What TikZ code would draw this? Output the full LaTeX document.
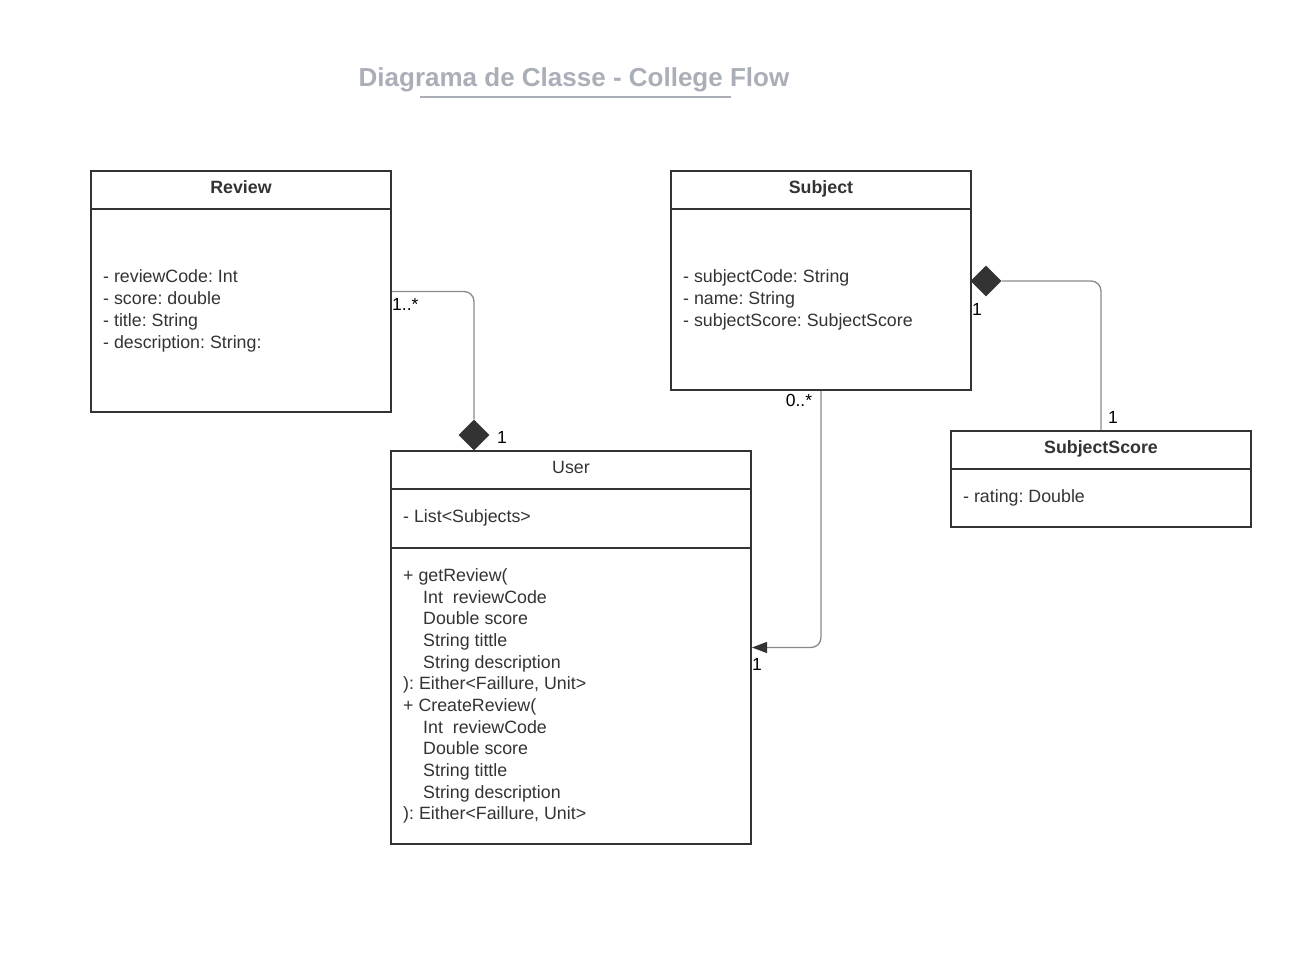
\documentclass[tikz,border=0pt]{standalone}
\usepackage{fontspec}
\setmainfont{Liberation Sans}
\usetikzlibrary{shapes.geometric,arrows.meta}
\definecolor{dark}{HTML}{333333}
\definecolor{linegray}{HTML}{8A8A8A}
\definecolor{titlegray}{HTML}{A9AEB7}
\frenchspacing
\tikzset{
  umlbox/.style={draw=dark, line width=2pt, rectangle, inner sep=0pt},
  sep/.style={draw=dark, line width=2pt},
  attr/.style={text=dark, inner sep=0pt, font=\fontsize{17.8}{21.7}\selectfont},
  hdr/.style={text=dark, inner sep=0pt, anchor=base, font=\fontsize{17.8}{21.7}\selectfont\bfseries},
  lbl/.style={text=black, inner sep=0pt, font=\fontsize{17.5}{20}\selectfont},
  conn/.style={draw=linegray, line width=1.3pt, rounded corners=10pt},
  comp/.style={diamond, fill=dark, inner sep=0pt, minimum width=31pt, minimum height=31pt},
}
\begin{document}
\begin{tikzpicture}[x=1pt,y=-1pt]
\useasboundingbox (0,0) rectangle (1299,976);

% title
\node[text=titlegray, inner sep=0pt, anchor=base, font=\fontsize{26}{30}\selectfont\bfseries] (title) at (574,86.5) {Diagrama de Classe - College Flow};
\draw[titlegray, line width=2pt] (420,97) -- (731,97);

% boxes
\node[umlbox, minimum width=300pt, minimum height=241pt] (review) at (241,291.5) {};
\draw[sep] (91,209) -- (391,209);
\node[hdr] (reviewT) at (241,193.5) {Review};
\foreach [count=\i] \t in {{- reviewCode: Int},{- score: double},{- title: String},{- description: String:}}
  \node[attr, anchor=base west] (rv\i) at (103,{283+(\i-1)*21.7}) {\t};

\node[umlbox, minimum width=300pt, minimum height=219pt] (subject) at (821,280.5) {};
\draw[sep] (671,209) -- (971,209);
\node[hdr] (subjectT) at (821,193.5) {Subject};
\foreach [count=\i] \t in {{- subjectCode: String},{- name: String},{- subjectScore: SubjectScore}}
  \node[attr, anchor=base west] (sb\i) at (683,{283+(\i-1)*21.7}) {\t};

\node[umlbox, minimum width=300pt, minimum height=96pt] (score) at (1101,479) {};
\draw[sep] (951,469) -- (1251,469);
\node[hdr] (scoreT) at (1101,453.5) {SubjectScore};
\node[attr, anchor=base west] (sc1) at (963,502.5) {- rating: Double};

\node[umlbox, minimum width=360pt, minimum height=393pt] (user) at (571,647.5) {};
\draw[sep] (391,489) -- (751,489);
\draw[sep] (391,548) -- (751,548);
\node[attr] (userT) at (571,467) {User};
\node[attr, anchor=base west] (us0) at (403,522.5) {- List<Subjects>};
\foreach [count=\i] \x/\t in {403/{+ getReview(},423/{Int\ \ reviewCode},423/{Double score},423/{String tittle},423/{String description},403/{): Either<Faillure, Unit>},403/{+ CreateReview(},423/{Int\ \ reviewCode},423/{Double score},423/{String tittle},423/{String description},403/{): Either<Faillure, Unit>}}
  \node[attr, anchor=base west] (um\i) at (\x,{581.5+(\i-1)*21.65}) {\t};

% composition diamonds
\node[comp] (dia1) at (474,435) {};
\node[comp] (dia2) at (986,281) {};

% connectors
\draw[conn] (review.east) -| (dia1.north);
\draw[conn] (dia2.east) -| (score.north);
\draw[conn, -{Triangle[length=15pt,width=11pt,color=dark]}] (subject.south) |- (user.east);

% multiplicities
\node[lbl, anchor=west] (m1) at (392,304.5) {1..*};
\node[lbl] (m2) at (502,437.5) {1};
\node[lbl] (m3) at (977,309.5) {1};
\node[lbl] (m4) at (1113,417.5) {1};
\node[lbl] (m5) at (799,400.5) {0..*};
\node[lbl] (m6) at (757,664.5) {1};
\end{tikzpicture}
\end{document}
